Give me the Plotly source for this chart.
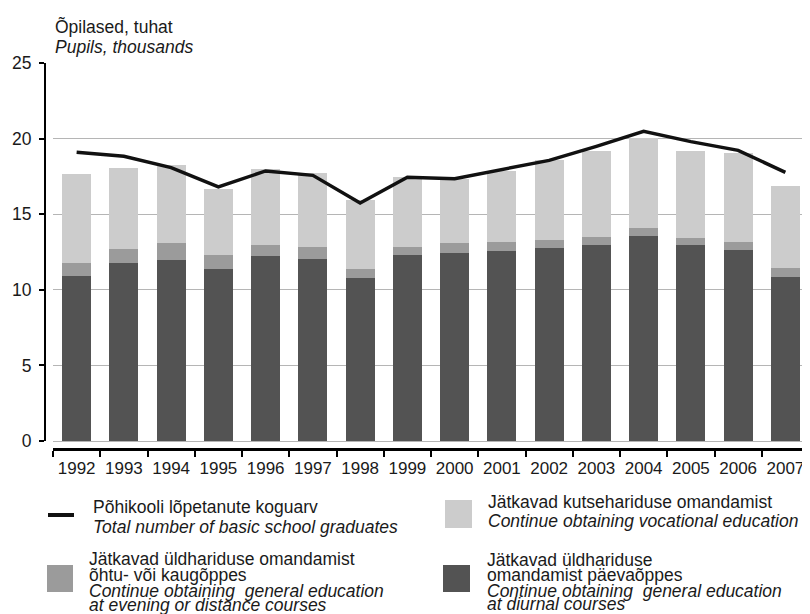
import plotly.graph_objects as go

years = [str(y) for y in range(1992, 2008)]

# thousand pupils
diurnal = [10.89, 11.77, 11.97, 11.38, 12.21, 12.02, 10.76, 12.28,
           12.41, 12.54, 12.74, 12.94, 13.54, 12.94, 12.61, 10.82]
evening = [0.88, 0.91, 1.13, 0.90, 0.73, 0.79, 0.59, 0.53,
           0.66, 0.60, 0.53, 0.53, 0.53, 0.46, 0.53, 0.60]
vocational = [5.87, 5.35, 5.13, 4.36, 5.03, 4.89, 4.57, 4.63,
              4.24, 4.69, 5.29, 5.69, 5.95, 5.76, 5.89, 5.42]
total = [19.09, 18.83, 18.08, 16.80, 17.86, 17.57, 15.74, 17.44,
         17.35, 17.95, 18.56, 19.49, 20.48, 19.80, 19.22, 17.77]

C_DARK = "#535353"
C_MID = "#9b9b9b"
C_LIGHT = "#cccccc"
FONT = "Liberation Sans, Arial, sans-serif"
FS = 17.5
TXT = "#1a1a1a"

# the page body has an 8px margin, so the figure starts at (8, 8) on screen
OFF = 8
W, H = 810 - OFF, 614 - OFF
ML, MR, MT, MB = 45 - OFF, 1, 63 - OFF, 614 - 449
PW, PH = W - ML - MR, H - MT - MB


def px(x):
    # screen x -> paper
    return (x - OFF - ML) / PW


def py(y):
    # screen y -> paper
    return (H - MB - (y - OFF)) / PH


fig = go.Figure()
fig.add_trace(go.Bar(x=years, y=diurnal, marker_color=C_DARK, marker_line_width=0))
fig.add_trace(go.Bar(x=years, y=evening, marker_color=C_MID, marker_line_width=0))
fig.add_trace(go.Bar(x=years, y=vocational, marker_color=C_LIGHT, marker_line_width=0))
fig.add_trace(go.Scatter(x=years, y=total, mode="lines",
                         line=dict(color="#111111", width=3.5)))

annotations = []


def text(x, y, s, italic=False):
    if italic:
        s = "<i>" + s + "</i>"
    annotations.append(dict(x=px(x), y=py(y), xref="paper", yref="paper",
                            text=s, showarrow=False, xanchor="left",
                            yanchor="middle",
                            font=dict(family=FONT, size=FS, color=TXT)))


text(53, 27, "Õpilased, tuhat")
text(53, 47, "Pupils, thousands", True)

text(91, 507, "Põhikooli lõpetanute koguarv")
text(91, 527, "Total number of basic school graduates", True)

text(486, 502, "Jätkavad kutsehariduse omandamist")
text(486, 521, "Continue obtaining vocational education", True)

text(87, 559, "Jätkavad üldhariduse omandamist")
text(87, 575, "õhtu- või kaugõppes")
text(87, 591, "Continue obtaining \u00a0general education", True)
text(87, 605, "at evening or distance courses", True)

text(485, 560, "Jätkavad üldhariduse")
text(485, 575, "omandamist päevaõppes")
text(485, 591, "Continue obtaining \u00a0general education", True)
text(485, 604, "at diurnal courses", True)

shapes = [
    dict(type="line", xref="paper", yref="paper", x0=px(48), x1=px(74),
         y0=py(515), y1=py(515), line=dict(color="#111111", width=4)),
    dict(type="rect", xref="paper", yref="paper", x0=px(445), x1=px(472),
         y0=py(528), y1=py(500), fillcolor=C_LIGHT, line_width=0),
    dict(type="rect", xref="paper", yref="paper", x0=px(47), x1=px(73),
         y0=py(592), y1=py(565), fillcolor=C_MID, line_width=0),
    dict(type="rect", xref="paper", yref="paper", x0=px(443), x1=px(470),
         y0=py(592), y1=py(565), fillcolor=C_DARK, line_width=0),
]

fig.update_layout(
    width=W, height=H,
    margin=dict(l=ML, r=MR, t=MT, b=MB, autoexpand=False),
    barmode="stack", bargap=0.39,
    showlegend=False,
    plot_bgcolor="white", paper_bgcolor="white",
    font=dict(family=FONT, size=FS, color=TXT),
    annotations=annotations,
    shapes=shapes,
    xaxis=dict(
        type="category", domain=[px(53), 1],
        anchor="free", position=0, automargin=False, tickangle=0,
        showline=True, linecolor="black", linewidth=2.5,
        ticks="outside", tickson="boundaries", ticklen=6, tickwidth=2,
        tickcolor="black", showgrid=False, ticklabelstandoff=3,
        tickfont=dict(family=FONT, size=17, color=TXT),
    ),
    yaxis=dict(
        range=[0, 25], dtick=5, domain=[py(441), 1],
        anchor="free", position=0, automargin=False,
        showline=True, linecolor="black", linewidth=2,
        ticks="outside", ticklen=5, tickwidth=2, tickcolor="black",
        ticklabelstandoff=4,
        showgrid=True, gridcolor="#b5b5b5", gridwidth=1,
        zeroline=True, zerolinecolor="#b5b5b5", zerolinewidth=1,
        tickfont=dict(family=FONT, size=FS, color=TXT),
    ),
)

fig.write_html("out.html")
